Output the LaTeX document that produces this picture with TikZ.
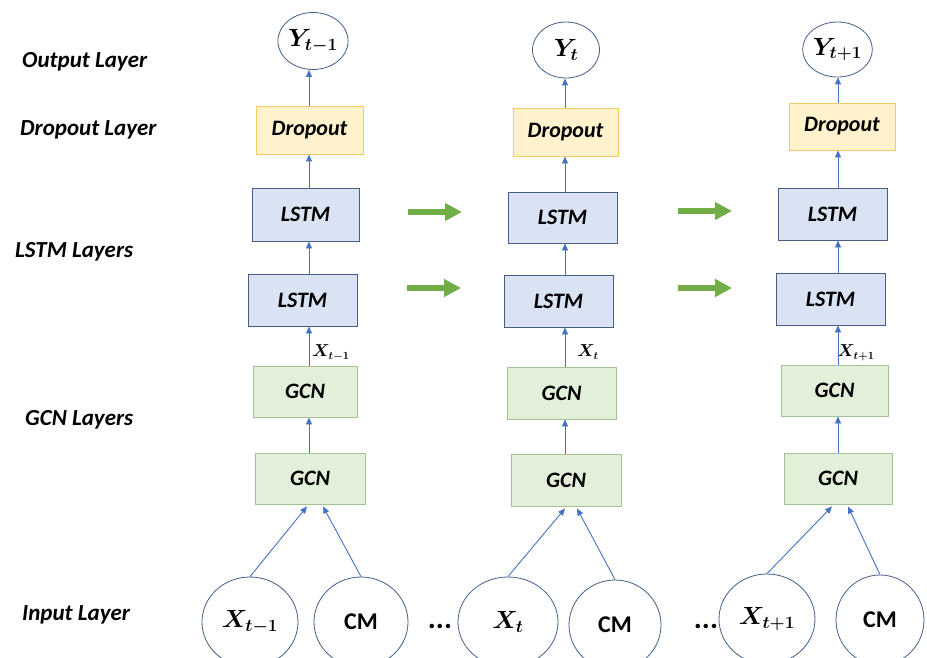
\documentclass[tikz,border=0pt]{standalone}
\usepackage{fontspec}
\setmainfont{Carlito}
\usepackage{amsmath,bm}
\usetikzlibrary{arrows.meta,shapes.geometric}

\definecolor{linkblue}{HTML}{4472C4}
\definecolor{ovaledge}{HTML}{41608C}
\definecolor{lstmfill}{HTML}{DAE3F3}
\definecolor{lstmedge}{HTML}{4A5E85}
\definecolor{gcnfill}{HTML}{E2F0D9}
\definecolor{gcnedge}{HTML}{A3C293}
\definecolor{dropfill}{HTML}{FFF2CC}
\definecolor{dropedge}{HTML}{F2CE62}
\definecolor{flowgreen}{HTML}{70AD47}

\tikzset{
  layerbox/.style={draw, line width=0.9pt, inner sep=0pt,
    font=\fontsize{22}{24}\selectfont\bfseries\itshape},
  lstmbox/.style={layerbox, draw=lstmedge, fill=lstmfill},
  gcnbox/.style={layerbox, draw=gcnedge, fill=gcnfill},
  dropbox/.style={layerbox, draw=dropedge, fill=dropfill},
  oval/.style={ellipse, draw=ovaledge, line width=0.8pt, inner sep=0pt, fill=white},
  outoval/.style={oval, font=\fontsize{26}{28}\selectfont},
  inoval/.style={oval, font=\fontsize{25}{28}\selectfont},
  cmoval/.style={oval, font=\fontsize{24}{26}\selectfont\bfseries},
  link/.style={draw=linkblue, line width=0.9pt, -{Triangle[length=7pt,width=6pt]}},
  flow/.style={draw=flowgreen, line width=6pt, -{Triangle[length=17pt,width=17pt]}},
  sidelabel/.style={anchor=west, inner sep=0pt, font=\fontsize{23}{26}\selectfont\bfseries\itshape},
  steplabel/.style={anchor=west, inner sep=0pt, font=\fontsize{16}{18}\selectfont},
  dots/.style={inner sep=0pt, font=\fontsize{30}{32}\selectfont\bfseries}
}

\begin{document}
\begin{tikzpicture}[x=1pt,y=-1pt]
\clip (0,0) rectangle (927,657);
\fill[white] (0,0) rectangle (927,657);

% layer names on the left
\node[sidelabel] (nOut)  at (22,62)  {Output Layer};
\node[sidelabel] (nDrop) at (20,130) {Dropout Layer};
\node[sidelabel] (nLstm) at (15,252) {LSTM Layers};
\node[sidelabel] (nGcn)  at (25,420) {GCN Layers};
\node[sidelabel] (nIn)   at (22,615) {Input Layer};

% vertical guide of each time step
\coordinate (k1) at (309,0);
\coordinate (k2) at (565,0);
\coordinate (k3) at (838,0);

% ---------- time step t-1 ----------
\node[outoval, minimum width=70pt, minimum height=57pt] (Y1) at (313,41) {$\bm{Y_{t-1}}$};
\node[dropbox, minimum width=107pt, minimum height=48pt] (D1) at (309.5,130) {Dropout};
\node[lstmbox, minimum width=107pt, minimum height=53pt] (LA1) at (305.5,214.5) {LSTM};
\node[lstmbox, minimum width=109pt, minimum height=52pt] (LB1) at (302.5,300) {LSTM};
\node[gcnbox, minimum width=104pt, minimum height=51pt] (GA1) at (305,391.5) {GCN};
\node[gcnbox, minimum width=110pt, minimum height=51pt] (GB1) at (310,478.5) {GCN};
\node[inoval, minimum width=96pt, minimum height=90pt] (X1) at (250,622) {$\bm{X_{t-1}}$};
\node[cmoval, minimum width=94pt, minimum height=90pt] (C1) at (361,622) {CM};
\node[steplabel] (s1) at (312,353) {$\bm{X_{t-1}}$};

% ---------- time step t ----------
\node[outoval, minimum width=67pt, minimum height=56pt] (Y2) at (566,50) {$\bm{Y_{t}}$};
\node[dropbox, minimum width=105pt, minimum height=48pt] (D2) at (565.5,132) {Dropout};
\node[lstmbox, minimum width=109pt, minimum height=51pt] (LA2) at (562.5,217.5) {LSTM};
\node[lstmbox, minimum width=109pt, minimum height=52pt] (LB2) at (558.5,301) {LSTM};
\node[gcnbox, minimum width=109pt, minimum height=52pt] (GA2) at (561.5,393) {GCN};
\node[gcnbox, minimum width=110pt, minimum height=52pt] (GB2) at (566,480) {GCN};
\node[inoval, minimum width=100pt, minimum height=90pt] (X2) at (508,622) {$\bm{X_{t}}$};
\node[cmoval, minimum width=92pt, minimum height=90pt] (C2) at (615,625) {CM};
\node[steplabel] (s2) at (577,352) {$\bm{X_{t}}$};

% ---------- time step t+1 ----------
\node[outoval, minimum width=69pt, minimum height=55pt] (Y3) at (837.5,49.5) {$\bm{Y_{t+1}}$};
\node[dropbox, minimum width=106pt, minimum height=47pt] (D3) at (842,126.5) {Dropout};
\node[lstmbox, minimum width=109pt, minimum height=52pt] (LA3) at (832.5,214) {LSTM};
\node[lstmbox, minimum width=109pt, minimum height=52pt] (LB3) at (830.5,299) {LSTM};
\node[gcnbox, minimum width=107pt, minimum height=51pt] (GA3) at (834.5,390.5) {GCN};
\node[gcnbox, minimum width=108pt, minimum height=51pt] (GB3) at (838,478.5) {GCN};
\node[inoval, minimum width=96pt, minimum height=90pt] (X3) at (767,619) {$\bm{X_{t+1}}$};
\node[cmoval, minimum width=88pt, minimum height=90pt] (C3) at (880,620) {CM};
\node[steplabel] (s3) at (837,353) {$\bm{X_{t+1}}$};

% ellipsis between the input groups
\node[dots] (e1) at (440,626) {...};
\node[dots] (e2) at (706,626) {...};

% upward connections inside each time step
\foreach \c in {1,2,3}{
  \draw[link] (D\c.north -| k\c) -- (Y\c.south -| k\c);
  \draw[link] (LA\c.north -| k\c) -- (D\c.south -| k\c);
  \draw[link] (LB\c.north -| k\c) -- (LA\c.south -| k\c);
  \draw[link] (GA\c.north -| k\c) -- (LB\c.south -| k\c);
  \draw[link] (GB\c.north -| k\c) -- (GA\c.south -| k\c);
}

% inputs feeding the first GCN layer
\draw[link] (X1.north) -- ([xshift=-3pt,yshift=-2pt]GB1.south);
\draw[link] (C1.north) -- ([xshift=13pt,yshift=-2pt]GB1.south);
\draw[link] (X2.north) -- ([xshift=-1pt,yshift=-2pt]GB2.south);
\draw[link] (C2.north) -- ([xshift=11pt,yshift=-2pt]GB2.south);
\draw[link] (X3.north) -- ([xshift=-6pt,yshift=-2pt]GB3.south);
\draw[link] (C3.north) -- ([xshift=10pt,yshift=-2pt]GB3.south);

% recurrent flow between the LSTM layers of consecutive steps
\coordinate (fa1) at (408,212); \coordinate (ta1) at (462,212);
\coordinate (fb1) at (407,288); \coordinate (tb1) at (461,288);
\coordinate (fa2) at (678,211); \coordinate (ta2) at (732,211);
\coordinate (fb2) at (678,288); \coordinate (tb2) at (732,288);
\draw[flow] (fa1) -- (ta1);
\draw[flow] (fb1) -- (tb1);
\draw[flow] (fa2) -- (ta2);
\draw[flow] (fb2) -- (tb2);
\end{tikzpicture}
\end{document}
